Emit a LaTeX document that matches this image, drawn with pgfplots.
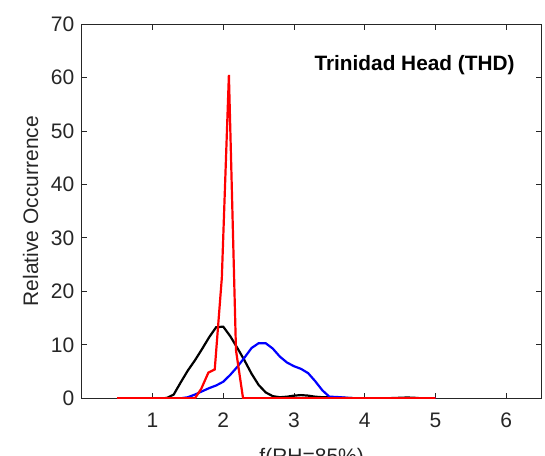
\documentclass[border=0pt]{standalone}
\usepackage{fontspec}
\setmainfont{Liberation Sans}
\usepackage{pgfplots}
\pgfplotsset{compat=1.18}
\definecolor{axgray}{RGB}{38,38,38}
\begin{document}
\fontsize{10.5}{12.6}\selectfont
\begin{tikzpicture}
\clip (-40.85pt,-28.35pt) rectangle (231.65pt,199.15pt);
\begin{axis}[
    at={(0,0)}, anchor=south west,
    scale only axis,
    width=230pt, height=187.15pt,
    xmin=0, xmax=6.5, ymin=0, ymax=70,
    xtick={1,2,3,4,5,6},
    ytick={0,10,20,30,40,50,60,70},
    tick align=inside,
    major tick length=2.8pt,
    axis line style={axgray, line width=0.4pt},
    every tick/.style={axgray, line width=0.4pt},
    tick label style={font=\fontsize{10.5}{12.6}\selectfont, text=axgray},
    /pgf/number format/assume math mode=true,
    xticklabel style={yshift=-3.5pt},
    xlabel={f(RH=85\%)},
    ylabel={Relative Occurrence},
    label style={font=\fontsize{10.5}{12.6}\selectfont, text=axgray},
    xlabel style={at={(axis description cs:0.5,-0.114)}, anchor=north},
    ylabel style={at={(axis description cs:-0.111,0.5)}, anchor=center},
    every axis plot/.style={line width=1.1pt, mark=none},
]
% black
\addplot[black] coordinates {
(0.5,0) (0.6,0) (0.7,0) (0.8,0) (0.9,0) (1.0,0) (1.1,0) (1.2,0.05)
(1.3,0.7) (1.4,3.0) (1.5,5.2) (1.6,7.1) (1.7,9.2) (1.8,11.4) (1.9,13.3)
(2.0,13.4) (2.1,11.6) (2.2,9.4) (2.3,7.1) (2.4,4.6) (2.5,2.5) (2.6,1.1)
(2.7,0.4) (2.8,0.2) (2.9,0.3) (3.0,0.5) (3.1,0.6) (3.2,0.5) (3.3,0.3)
(3.4,0.2) (3.5,0.2) (3.6,0.2) (3.7,0.1) (3.8,0.05) (3.9,0) (4.0,0)
(4.1,0) (4.2,0) (4.3,0) (4.4,0.05) (4.5,0.1) (4.6,0.15) (4.7,0.1)
(4.8,0) (4.9,0) (5.0,0)
};
% blue
\addplot[blue] coordinates {
(0.5,0) (0.6,0) (0.7,0) (0.8,0) (0.9,0) (1.0,0) (1.1,0) (1.2,0)
(1.3,0) (1.4,0) (1.5,0.2) (1.6,0.7) (1.7,1.3) (1.8,1.9) (1.9,2.4)
(2.0,3.1) (2.1,4.4) (2.2,5.9) (2.3,7.6) (2.4,9.4) (2.5,10.3) (2.6,10.3)
(2.7,9.3) (2.8,7.8) (2.9,6.7) (3.0,6.0) (3.1,5.5) (3.2,4.7) (3.3,3.2)
(3.4,1.5) (3.5,0.3) (3.6,0.25) (3.7,0.15) (3.8,0.05) (3.9,0) (4.0,0)
(4.2,0) (4.4,0) (4.6,0) (4.8,0) (5.0,0)
};
% red
\addplot[red] coordinates {
(0.5,0) (0.6,0) (0.7,0) (0.8,0) (0.9,0) (1.0,0) (1.1,0) (1.2,0)
(1.3,0) (1.4,0) (1.5,0) (1.6,0) (1.69,1.8) (1.79,4.8) (1.88,5.4)
(1.98,22.5) (2.08,60.5) (2.18,9.0) (2.28,0) (2.4,0) (2.6,0) (2.8,0)
(3.0,0) (3.5,0) (4.0,0) (4.5,0) (5.0,0)
};
\node[anchor=east, font=\fontsize{10.4}{12.5}\selectfont\bfseries, text=black]
    at (axis cs:6.22,62.4) {Trinidad Head (THD)};
\end{axis}
\end{tikzpicture}
\end{document}
